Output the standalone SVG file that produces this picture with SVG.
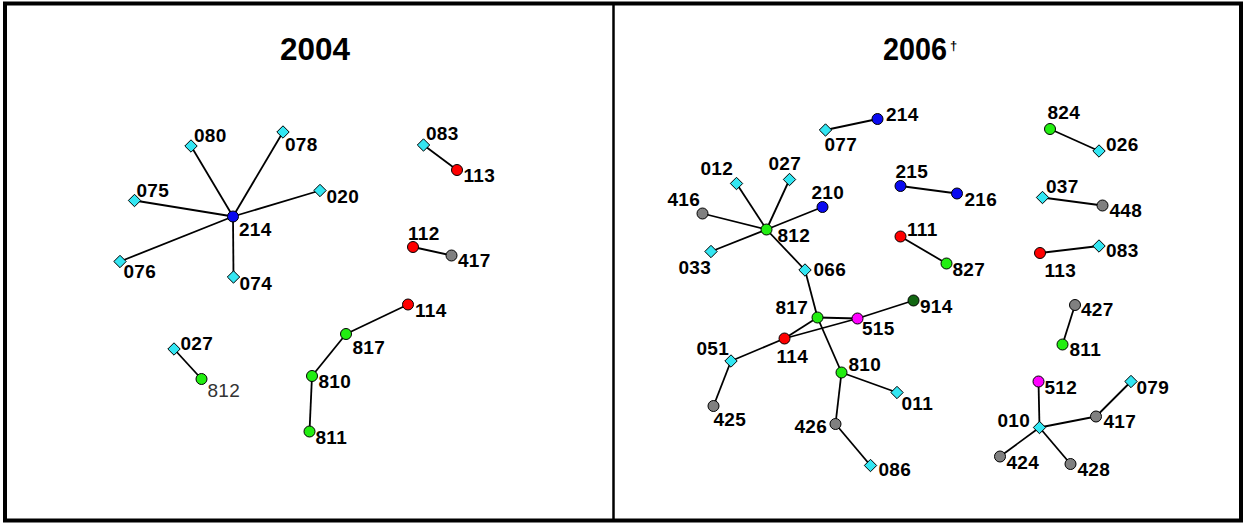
<svg xmlns="http://www.w3.org/2000/svg" width="1245" height="524" viewBox="0 0 1245 524">
<style>
.frame{fill:none;stroke:#000;stroke-width:4}
.div{stroke:#000;stroke-width:2.5}
.e line{stroke:#000;stroke-width:1.8}
.t{font-family:"Liberation Sans",Arial,sans-serif;font-weight:bold;font-size:31px;fill:#000}
.dg2{font-family:"Liberation Sans",Arial,sans-serif;font-weight:bold;font-size:13px;fill:#000}
.l{font-family:"Liberation Sans",Arial,sans-serif;font-weight:bold;font-size:19px;fill:#000;letter-spacing:0.3px}
.lg{font-family:"Liberation Sans",Arial,sans-serif;font-size:19px;fill:#333;letter-spacing:0.3px}
.c{stroke:#000;stroke-width:1}
.cy{fill:#33e6f2}
.bl{fill:#0a0af0}
.rd{fill:#ff0000}
.gr{fill:#22ee11}
.gy{fill:#808080}
.mg{fill:#ff00ff}
.dg{fill:#116611}
</style>
<defs>
<polygon id="dm" points="0,-6.2 6.2,0 0,6.2 -6.2,0" stroke="#000" stroke-width="1"/>
</defs>
<rect class="frame" x="5" y="3.5" width="1236" height="517"/>
<line class="div" x1="613.5" y1="3.5" x2="613.5" y2="520.5"/>
<text class="t" x="280" y="60" textLength="70" lengthAdjust="spacingAndGlyphs">2004</text>
<text class="t" x="883" y="60" textLength="64" lengthAdjust="spacingAndGlyphs">2006</text>
<text class="dg2" x="950" y="50">†</text>

<g id="connectors" class="e">
<line x1="233" y1="216.5" x2="191" y2="146"/>
<line x1="233" y1="216.5" x2="283" y2="132"/>
<line x1="233" y1="216.5" x2="134.5" y2="200.5"/>
<line x1="233" y1="216.5" x2="320" y2="190.5"/>
<line x1="233" y1="216.5" x2="120" y2="261.5"/>
<line x1="233" y1="216.5" x2="233.5" y2="277"/>
<line x1="423.5" y1="145" x2="457" y2="170"/>
<line x1="413" y1="247" x2="451.5" y2="255.5"/>
<line x1="408" y1="304.5" x2="346" y2="334"/>
<line x1="346" y1="334" x2="312" y2="376"/>
<line x1="312" y1="376" x2="309.5" y2="431.5"/>
<line x1="174" y1="349" x2="201.5" y2="379"/>

<line x1="825.5" y1="130" x2="877.5" y2="119"/>
<line x1="766.5" y1="229.5" x2="736.5" y2="183.5"/>
<line x1="766.5" y1="229.5" x2="789.5" y2="179.5"/>
<line x1="766.5" y1="229.5" x2="702.5" y2="213.5"/>
<line x1="766.5" y1="229.5" x2="822.5" y2="207"/>
<line x1="766.5" y1="229.5" x2="711" y2="251.5"/>
<line x1="766.5" y1="229.5" x2="805" y2="270"/>
<line x1="805" y1="270" x2="817.5" y2="317.5"/>
<line x1="817.5" y1="317.5" x2="841.5" y2="372.5"/>
<line x1="817.5" y1="317.5" x2="857.5" y2="318.5"/>
<line x1="817.5" y1="317.5" x2="784.5" y2="338.5"/>
<line x1="784.5" y1="338.5" x2="857.5" y2="318.5"/>
<line x1="857.5" y1="318.5" x2="913.5" y2="300.5"/>
<line x1="784.5" y1="338.5" x2="731" y2="361"/>
<line x1="731" y1="361" x2="713.5" y2="406"/>
<line x1="841.5" y1="372.5" x2="897" y2="392.5"/>
<line x1="841.5" y1="372.5" x2="835.5" y2="424"/>
<line x1="835.5" y1="424" x2="870.5" y2="465.5"/>
<line x1="900.5" y1="186" x2="957" y2="193.5"/>
<line x1="900.5" y1="236.5" x2="946.5" y2="263.5"/>
<line x1="1050" y1="129" x2="1099" y2="151"/>
<line x1="1042.5" y1="197.5" x2="1102.5" y2="205.5"/>
<line x1="1040" y1="253" x2="1099" y2="246"/>
<line x1="1075" y1="305" x2="1062.5" y2="344.5"/>
<line x1="1038.5" y1="381.5" x2="1039.5" y2="427.5"/>
<line x1="1039.5" y1="427.5" x2="1096" y2="416.5"/>
<line x1="1096" y1="416.5" x2="1131" y2="381.5"/>
<line x1="1039.5" y1="427.5" x2="1000" y2="456.5"/>
<line x1="1039.5" y1="427.5" x2="1070.5" y2="464"/>
</g>

<!-- 2004 panel nodes -->
<g id="n2004_214"><circle class="c bl" cx="233" cy="216.5" r="5.5"/><text class="l" x="239" y="236">214</text></g>
<g id="n2004_080"><use href="#dm" class="cy" x="191" y="146"/><text class="l" x="194" y="142">080</text></g>
<g id="n2004_078"><use href="#dm" class="cy" x="283" y="132"/><text class="l" x="285" y="151">078</text></g>
<g id="n2004_075"><use href="#dm" class="cy" x="134.5" y="200.5"/><text class="l" x="136.5" y="197">075</text></g>
<g id="n2004_020"><use href="#dm" class="cy" x="320" y="190.5"/><text class="l" x="326.5" y="203">020</text></g>
<g id="n2004_076"><use href="#dm" class="cy" x="120" y="261.5"/><text class="l" x="123.5" y="278">076</text></g>
<g id="n2004_074"><use href="#dm" class="cy" x="233.5" y="277"/><text class="l" x="239.5" y="290">074</text></g>
<g id="n2004_083"><use href="#dm" class="cy" x="423.5" y="145"/><text class="l" x="426" y="140">083</text></g>
<g id="n2004_113"><circle class="c rd" cx="457" cy="170" r="5.5"/><text class="l" x="463.5" y="182">113</text></g>
<g id="n2004_112"><circle class="c rd" cx="413" cy="247" r="5.5"/><text class="l" x="408" y="239.5">112</text></g>
<g id="n2004_417"><circle class="c gy" cx="451.5" cy="255.5" r="5.5"/><text class="l" x="458" y="267">417</text></g>
<g id="n2004_114"><circle class="c rd" cx="408" cy="304.5" r="5.5"/><text class="l" x="415" y="317">114</text></g>
<g id="n2004_817"><circle class="c gr" cx="346" cy="334" r="5.5"/><text class="l" x="352.5" y="353.5">817</text></g>
<g id="n2004_810"><circle class="c gr" cx="312" cy="376" r="5.5"/><text class="l" x="318.5" y="387.5">810</text></g>
<g id="n2004_811"><circle class="c gr" cx="309.5" cy="431.5" r="5.5"/><text class="l" x="315.5" y="443.5">811</text></g>
<g id="n2004_027"><use href="#dm" class="cy" x="174" y="349"/><text class="l" x="180.5" y="349.5">027</text></g>
<g id="n2004_812"><circle class="c gr" cx="201.5" cy="379" r="5.5"/><text class="lg" x="207.5" y="397">812</text></g>

<!-- 2006 panel nodes -->
<g id="n2006_077"><use href="#dm" class="cy" x="825.5" y="130"/><text class="l" x="824.5" y="151">077</text></g>
<g id="n2006_214"><circle class="c bl" cx="877.5" cy="119" r="5.5"/><text class="l" x="886" y="121">214</text></g>
<g id="n2006_012"><use href="#dm" class="cy" x="736.5" y="183.5"/><text class="l" x="700.5" y="174.5">012</text></g>
<g id="n2006_027"><use href="#dm" class="cy" x="789.5" y="179.5"/><text class="l" x="768.5" y="170">027</text></g>
<g id="n2006_416"><circle class="c gy" cx="702.5" cy="213.5" r="5.5"/><text class="l" x="667.5" y="205.5">416</text></g>
<g id="n2006_210"><circle class="c bl" cx="822.5" cy="207" r="5.5"/><text class="l" x="811.5" y="199">210</text></g>
<g id="n2006_812"><circle class="c gr" cx="766.5" cy="229.5" r="5.5"/><text class="l" x="777.5" y="242">812</text></g>
<g id="n2006_033"><use href="#dm" class="cy" x="711" y="251.5"/><text class="l" x="678.5" y="273.5">033</text></g>
<g id="n2006_066"><use href="#dm" class="cy" x="805" y="270"/><text class="l" x="813.5" y="276">066</text></g>
<g id="n2006_817"><circle class="c gr" cx="817.5" cy="317.5" r="5.5"/><text class="l" x="775.5" y="313.5">817</text></g>
<g id="n2006_515"><circle class="c mg" cx="857.5" cy="318.5" r="5.5"/><text class="l" x="862" y="335">515</text></g>
<g id="n2006_914"><circle class="c dg" cx="913.5" cy="300.5" r="5.5"/><text class="l" x="920" y="312.5">914</text></g>
<g id="n2006_114"><circle class="c rd" cx="784.5" cy="338.5" r="5.5"/><text class="l" x="776.5" y="362.5">114</text></g>
<g id="n2006_051"><use href="#dm" class="cy" x="731" y="361"/><text class="l" x="696.5" y="355">051</text></g>
<g id="n2006_425"><circle class="c gy" cx="713.5" cy="406" r="5.5"/><text class="l" x="713.5" y="426">425</text></g>
<g id="n2006_810"><circle class="c gr" cx="841.5" cy="372.5" r="5.5"/><text class="l" x="848.5" y="371">810</text></g>
<g id="n2006_011"><use href="#dm" class="cy" x="897" y="392.5"/><text class="l" x="901.5" y="410">011</text></g>
<g id="n2006_426"><circle class="c gy" cx="835.5" cy="424" r="5.5"/><text class="l" x="794.5" y="432.5">426</text></g>
<g id="n2006_086"><use href="#dm" class="cy" x="870.5" y="465.5"/><text class="l" x="878.5" y="476">086</text></g>
<g id="n2006_215"><circle class="c bl" cx="900.5" cy="186" r="5.5"/><text class="l" x="895.5" y="178">215</text></g>
<g id="n2006_216"><circle class="c bl" cx="957" cy="193.5" r="5.5"/><text class="l" x="964.5" y="206">216</text></g>
<g id="n2006_111"><circle class="c rd" cx="900.5" cy="236.5" r="5.5"/><text class="l" x="907" y="236">111</text></g>
<g id="n2006_827"><circle class="c gr" cx="946.5" cy="263.5" r="5.5"/><text class="l" x="952.5" y="275.5">827</text></g>
<g id="n2006_824"><circle class="c gr" cx="1050" cy="129" r="5.5"/><text class="l" x="1047.5" y="119">824</text></g>
<g id="n2006_026"><use href="#dm" class="cy" x="1099" y="151"/><text class="l" x="1106" y="151">026</text></g>
<g id="n2006_037"><use href="#dm" class="cy" x="1042.5" y="197.5"/><text class="l" x="1046" y="192.5">037</text></g>
<g id="n2006_448"><circle class="c gy" cx="1102.5" cy="205.5" r="5.5"/><text class="l" x="1109.5" y="217">448</text></g>
<g id="n2006_113"><circle class="c rd" cx="1040" cy="253" r="5.5"/><text class="l" x="1044.5" y="277">113</text></g>
<g id="n2006_083"><use href="#dm" class="cy" x="1099" y="246"/><text class="l" x="1106" y="257">083</text></g>
<g id="n2006_427"><circle class="c gy" cx="1075" cy="305" r="5.5"/><text class="l" x="1081" y="316">427</text></g>
<g id="n2006_811"><circle class="c gr" cx="1062.5" cy="344.5" r="5.5"/><text class="l" x="1069.5" y="356">811</text></g>
<g id="n2006_512"><circle class="c mg" cx="1038.5" cy="381.5" r="5.5"/><text class="l" x="1044.5" y="393.5">512</text></g>
<g id="n2006_079"><use href="#dm" class="cy" x="1131" y="381.5"/><text class="l" x="1136.5" y="393.5">079</text></g>
<g id="n2006_417"><circle class="c gy" cx="1096" cy="416.5" r="5.5"/><text class="l" x="1103.5" y="427.5">417</text></g>
<g id="n2006_010"><use href="#dm" class="cy" x="1039.5" y="427.5"/><text class="l" x="997.5" y="427">010</text></g>
<g id="n2006_424"><circle class="c gy" cx="1000" cy="456.5" r="5.5"/><text class="l" x="1006.5" y="469">424</text></g>
<g id="n2006_428"><circle class="c gy" cx="1070.5" cy="464" r="5.5"/><text class="l" x="1077.5" y="476">428</text></g>
</svg>
